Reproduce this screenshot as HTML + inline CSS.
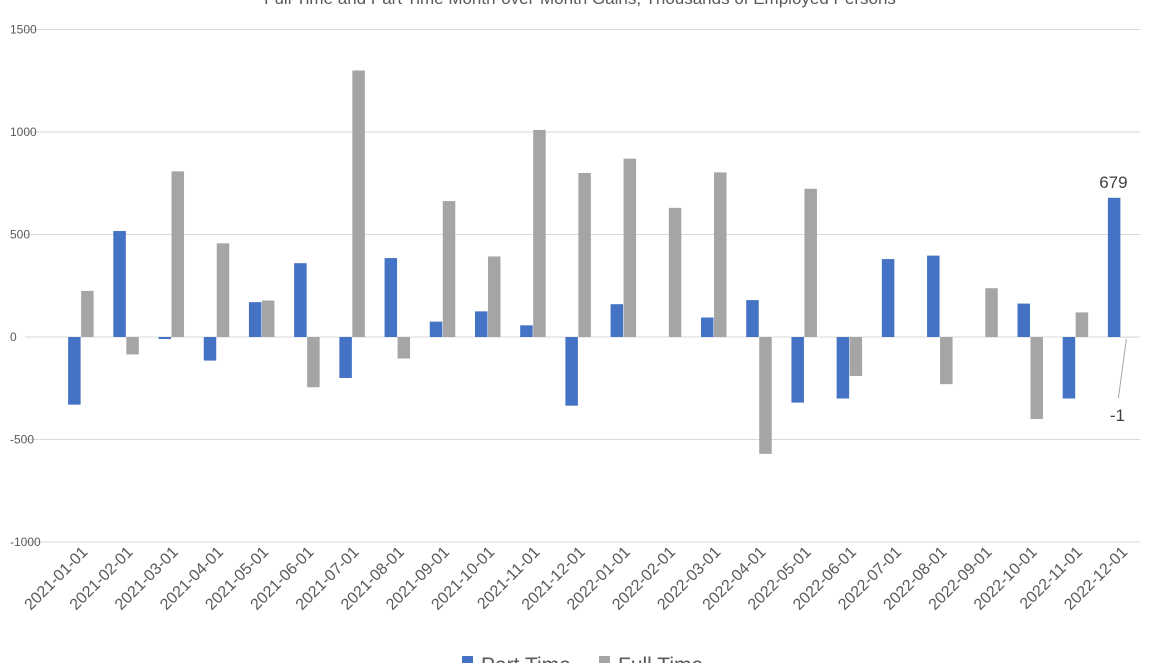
<!DOCTYPE html>
<html><head><meta charset="utf-8"><style>
html,body{margin:0;padding:0;background:#fff;width:1160px;height:663px;overflow:hidden}
svg text{font-family:"Liberation Sans",sans-serif}
</style></head><body>
<svg id="chart" width="1160" height="663" xmlns="http://www.w3.org/2000/svg">
<text x="580" y="4" text-anchor="middle" font-size="17" fill="#595959">Full Time and Part Time Month-over-Month Gains, Thousands of Employed Persons</text>
<g id="grid"></g><g id="bars"></g><g id="xlabels"></g>
<g>
<rect x="462" y="656" width="11" height="11" fill="#4472c4"/>
<text x="481" y="672" font-size="21" fill="#595959">Part Time</text>
<rect x="599" y="656" width="11" height="11" fill="#a5a5a5"/>
<text x="618" y="672" font-size="21" fill="#595959">Full Time</text>
</g>
</svg>
<script>
const categories=["2021-01-01","2021-02-01","2021-03-01","2021-04-01","2021-05-01","2021-06-01","2021-07-01","2021-08-01","2021-09-01","2021-10-01","2021-11-01","2021-12-01","2022-01-01","2022-02-01","2022-03-01","2022-04-01","2022-05-01","2022-06-01","2022-07-01","2022-08-01","2022-09-01","2022-10-01","2022-11-01","2022-12-01"];
const partTime=[-330,517,-10,-115,170,360,-200,385,75,125,57,-335,160,0,95,180,-320,-300,380,397,0,163,-300,679];
const fullTime=[225,-85,808,457,178,-245,1300,-105,663,393,1010,800,870,630,803,-570,723,-190,0,-230,238,-400,120,-1];
const yTicks=[1500,1000,500,0,-500,-1000];
const NS="http://www.w3.org/2000/svg";
const x0=58,x1=1143,bw=(x1-x0)/categories.length;
const y=v=>337-v*102.5/500;
const cx=i=>x0+bw*(i+0.5);
function mk(tag,attrs,parent){const e=document.createElementNS(NS,tag);for(const k in attrs)e.setAttribute(k,attrs[k]);parent.appendChild(e);return e;}
const grid=document.getElementById('grid'),bars=document.getElementById('bars'),xl=document.getElementById('xlabels');
yTicks.forEach(t=>{
 const l=mk('line',{x1:25,x2:1140,y1:y(t),y2:y(t),stroke:'#d9d9d9','stroke-width':1},grid);
 
 
 const tx=mk('text',{x:10,y:y(t)+4,'font-size':12,fill:'#595959'},grid);tx.textContent=t;
 
 
});
categories.forEach((c,i)=>{
 [[partTime[i],'#4472c4',-13,'bar-part-time'],[fullTime[i],'#a5a5a5',0,'bar-full-time']].forEach(([v,col,off,nm])=>{
  const r=mk('rect',{x:cx(i)+off+0.5,y:Math.min(y(v),y(0)),width:12.5,height:Math.abs(y(v)-y(0)),fill:col},bars);
  
  
 });
 const t=mk('text',{x:cx(i)+8,y:553,'font-size':16,fill:'#595959','text-anchor':'end',transform:`rotate(-45 ${cx(i)+8} 553)`},xl);
 t.textContent=c;
 
 
});
const n=categories.length-1;
const lp=mk('text',{x:cx(n)-7,y:y(partTime[n])-10,'font-size':17,fill:'#404040','text-anchor':'middle'},bars);
lp.textContent=partTime[n];


const ll=mk('line',{x1:cx(n)+6,y1:y(0)+2,x2:cx(n)-2,y2:398,stroke:'#a5a5a5'},bars);


const lf=mk('text',{x:cx(n)-3,y:421,'font-size':17,fill:'#404040','text-anchor':'middle'},bars);
lf.textContent=fullTime[n];


</script>
</body></html>
